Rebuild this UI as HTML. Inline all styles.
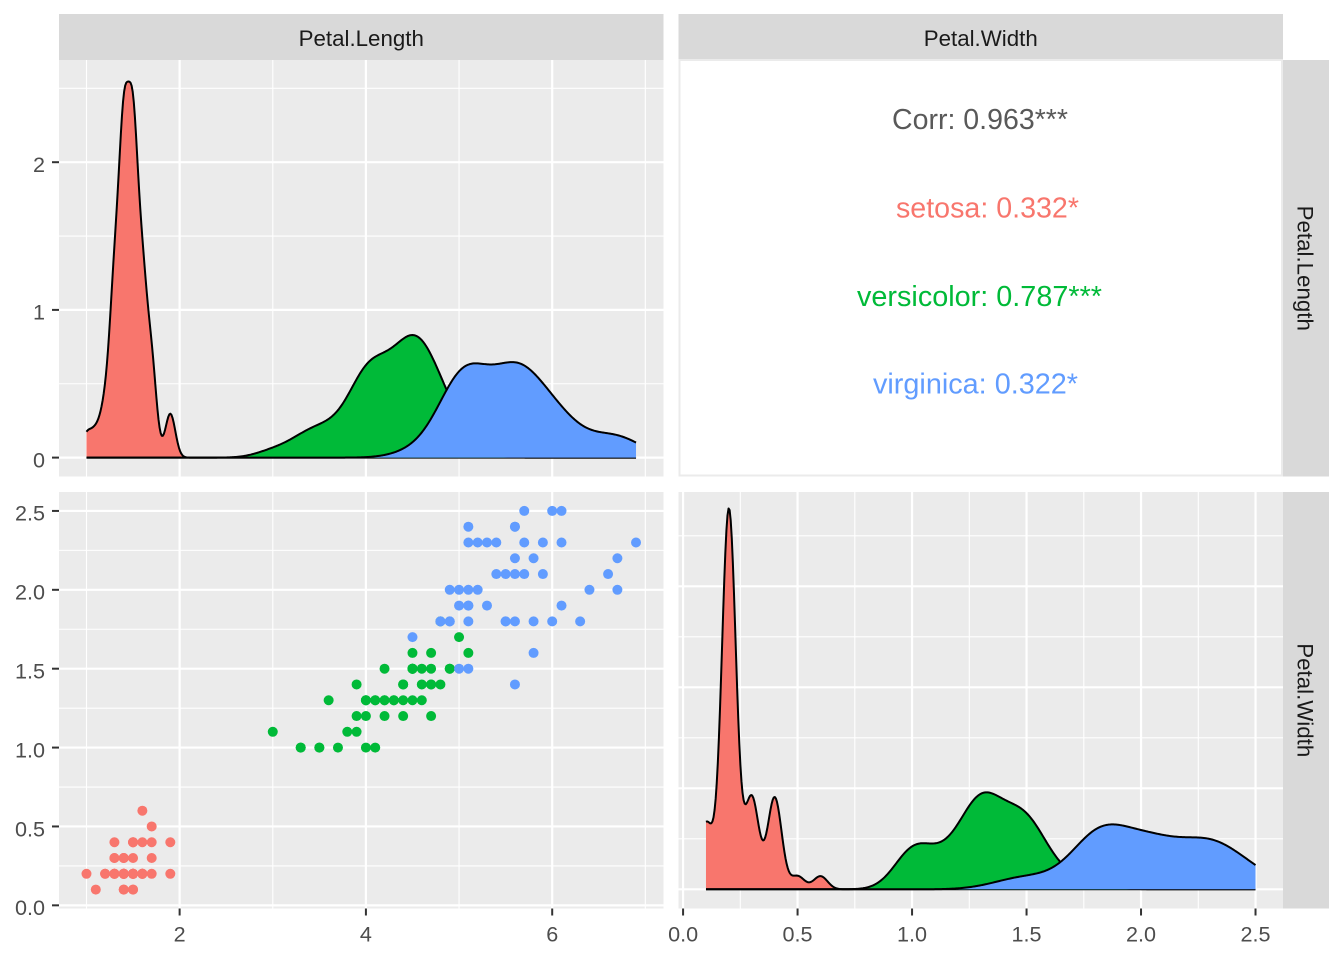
<!DOCTYPE html>
<html><head><meta charset="utf-8">
<style>
html,body{margin:0;padding:0;background:#fff;}
svg{display:block;}
text{font-family:"Liberation Sans",Arial,sans-serif;}
</style></head>
<body>
<svg id="s" width="1344" height="960" viewBox="0 0 1344 960" xmlns="http://www.w3.org/2000/svg">
<rect x="0" y="0" width="1344" height="960" fill="#ffffff"/>
<!-- top strips -->
<rect x="59" y="14" width="604.5" height="46" fill="#D9D9D9"/>
<rect x="678.5" y="14" width="604.5" height="46" fill="#D9D9D9"/>
<text x="361.25" y="46" font-size="22.3" fill="#1A1A1A" text-anchor="middle">Petal.Length</text>
<text x="980.75" y="46" font-size="22.3" fill="#1A1A1A" text-anchor="middle">Petal.Width</text>
<!-- right strips -->
<rect x="1283" y="60" width="46" height="416.5" fill="#D9D9D9"/>
<rect x="1283" y="492" width="46" height="416.5" fill="#D9D9D9"/>
<text transform="translate(1297.5,268.25) rotate(90)" font-size="22.3" fill="#1A1A1A" text-anchor="middle">Petal.Length</text>
<text transform="translate(1297.5,700.25) rotate(90)" font-size="22.3" fill="#1A1A1A" text-anchor="middle">Petal.Width</text>
<!-- panel backgrounds -->
<rect x="59" y="60" width="604.5" height="416.5" fill="#EBEBEB"/>
<rect x="59" y="492" width="604.5" height="416.5" fill="#EBEBEB"/>
<rect x="678.5" y="492" width="604.5" height="416.5" fill="#EBEBEB"/>
<rect x="679.5" y="60" width="602.5" height="415.5" fill="#ffffff" stroke="#EBEBEB" stroke-width="2"/>
<g id="p1"></g>
<g id="p3"></g>
<g id="p4"></g>
<!-- correlation text -->
<text x="892" y="129" font-size="29" fill="#595959" textLength="176" lengthAdjust="spacingAndGlyphs">Corr: 0.963***</text>
<text x="896" y="217.7" font-size="29" fill="#F8766D" textLength="183" lengthAdjust="spacingAndGlyphs">setosa: 0.332*</text>
<text x="857" y="306" font-size="29" fill="#00BA38" textLength="245" lengthAdjust="spacingAndGlyphs">versicolor: 0.787***</text>
<text x="873" y="393.5" font-size="29" fill="#619CFF" textLength="205" lengthAdjust="spacingAndGlyphs">virginica: 0.322*</text>
<!-- left axis ticks -->
<g stroke="#333333" stroke-width="2">
<line x1="52" y1="162.2" x2="59" y2="162.2"/>
<line x1="52" y1="309.9" x2="59" y2="309.9"/>
<line x1="52" y1="457.6" x2="59" y2="457.6"/>
<line x1="52" y1="905.34" x2="59" y2="905.34"/>
<line x1="52" y1="826.46" x2="59" y2="826.46"/>
<line x1="52" y1="747.58" x2="59" y2="747.58"/>
<line x1="52" y1="668.69" x2="59" y2="668.69"/>
<line x1="52" y1="589.81" x2="59" y2="589.81"/>
<line x1="52" y1="510.93" x2="59" y2="510.93"/>
<line x1="179.62" y1="908.5" x2="179.62" y2="915.5"/>
<line x1="365.91" y1="908.5" x2="365.91" y2="915.5"/>
<line x1="552.2" y1="908.5" x2="552.2" y2="915.5"/>
<line x1="683.08" y1="908.5" x2="683.08" y2="915.5"/>
<line x1="797.57" y1="908.5" x2="797.57" y2="915.5"/>
<line x1="912.06" y1="908.5" x2="912.06" y2="915.5"/>
<line x1="1026.55" y1="908.5" x2="1026.55" y2="915.5"/>
<line x1="1141.03" y1="908.5" x2="1141.03" y2="915.5"/>
<line x1="1255.52" y1="908.5" x2="1255.52" y2="915.5"/>
</g>
<g font-size="21.6" fill="#4D4D4D" text-anchor="end">
<text x="45" y="172">2</text>
<text x="45" y="319.7">1</text>
<text x="45" y="467.4">0</text>
<text x="45" y="915.1">0.0</text>
<text x="45" y="836.3">0.5</text>
<text x="45" y="757.4">1.0</text>
<text x="45" y="678.5">1.5</text>
<text x="45" y="599.6">2.0</text>
<text x="45" y="520.7">2.5</text>
</g>
<g font-size="21.6" fill="#4D4D4D" text-anchor="middle">
<text x="179.62" y="941.5">2</text>
<text x="365.91" y="941.5">4</text>
<text x="552.2" y="941.5">6</text>
<text x="683.08" y="941.5">0.0</text>
<text x="797.57" y="941.5">0.5</text>
<text x="912.06" y="941.5">1.0</text>
<text x="1026.55" y="941.5">1.5</text>
<text x="1141.03" y="941.5">2.0</text>
<text x="1255.52" y="941.5">2.5</text>
</g>
</svg>
<script>
(function(){
var PL=[1.4,1.4,1.3,1.5,1.4,1.7,1.4,1.5,1.4,1.5,1.5,1.6,1.4,1.1,1.2,1.5,1.3,1.4,1.7,1.5,1.7,1.5,1.0,1.7,1.9,1.6,1.6,1.5,1.4,1.6,1.6,1.5,1.5,1.4,1.5,1.2,1.3,1.4,1.3,1.5,1.3,1.3,1.3,1.6,1.9,1.4,1.6,1.4,1.5,1.4,
4.7,4.5,4.9,4.0,4.6,4.5,4.7,3.3,4.6,3.9,3.5,4.2,4.0,4.7,3.6,4.4,4.5,4.1,4.5,3.9,4.8,4.0,4.9,4.7,4.3,4.4,4.8,5.0,4.5,3.5,3.8,3.7,3.9,5.1,4.5,4.5,4.7,4.4,4.1,4.0,4.4,4.6,4.0,3.3,4.2,4.2,4.2,4.3,3.0,4.1,
6.0,5.1,5.9,5.6,5.8,6.6,4.5,6.3,5.8,6.1,5.1,5.3,5.5,5.0,5.1,5.3,5.5,6.7,6.9,5.0,5.7,4.9,6.7,4.9,5.7,6.0,4.8,4.9,5.6,5.8,6.1,6.4,5.6,5.1,5.6,6.1,5.6,5.5,4.8,5.4,5.6,5.1,5.1,5.9,5.7,5.2,5.0,5.2,5.4,5.1];
var PW=[0.2,0.2,0.2,0.2,0.2,0.4,0.3,0.2,0.2,0.1,0.2,0.2,0.1,0.1,0.2,0.4,0.4,0.3,0.3,0.3,0.2,0.4,0.2,0.5,0.2,0.2,0.4,0.2,0.2,0.2,0.2,0.4,0.1,0.2,0.2,0.2,0.2,0.1,0.2,0.2,0.3,0.3,0.2,0.6,0.4,0.3,0.2,0.2,0.2,0.2,
1.4,1.5,1.5,1.3,1.5,1.3,1.6,1.0,1.3,1.4,1.0,1.5,1.0,1.4,1.3,1.4,1.5,1.0,1.5,1.1,1.8,1.3,1.5,1.2,1.3,1.4,1.4,1.7,1.5,1.0,1.1,1.0,1.2,1.6,1.5,1.6,1.5,1.3,1.3,1.3,1.2,1.4,1.2,1.0,1.3,1.2,1.3,1.3,1.1,1.3,
2.5,1.9,2.1,1.8,2.2,2.1,1.7,1.8,1.8,2.5,2.0,1.9,2.1,2.0,2.4,2.3,1.8,2.2,2.3,1.5,2.3,2.0,2.0,1.8,2.1,1.8,1.8,1.8,2.1,1.6,1.9,2.0,2.2,1.5,1.4,2.3,2.4,1.8,1.8,2.1,2.4,2.3,1.9,2.3,2.5,2.3,1.9,2.0,2.3,1.8];
var cols=['#F8766D','#00BA38','#619CFF'];
var NS='http://www.w3.org/2000/svg';
function el(tag,a,p){var e=document.createElementNS(NS,tag);for(var k in a)e.setAttribute(k,a[k]);p.appendChild(e);return e;}
function xPL(v){return 59+(v-0.705)/6.49*604.5;}
function xPW(v){return 678.5+(v+0.02)/2.64*604.5;}
function yPW(v){return 908.5-(v+0.02)/2.64*416.5;}
function yD1(d){return 457.6-d*147.7;}
function yD4(d){return 889.3-d*50.5;}
function quant(s,p){var h=(s.length-1)*p,lo=Math.floor(h),f=h-lo;return lo+1<s.length?s[lo]+f*(s[lo+1]-s[lo]):s[lo];}
function bw(x){var n=x.length,m=0,i;for(i=0;i<n;i++)m+=x[i];m/=n;var ss=0;for(i=0;i<n;i++)ss+=(x[i]-m)*(x[i]-m);var sd=Math.sqrt(ss/(n-1));var s=x.slice().sort(function(a,b){return a-b;});var iqr=quant(s,0.75)-quant(s,0.25);var lo=Math.min(sd,iqr/1.34);if(!(lo>0))lo=sd||Math.abs(s[0])||1;return 0.9*lo*Math.pow(n,-0.2);}
function kde(x,from,to,N){var b=bw(x),n=x.length,c=1/(n*b*Math.sqrt(2*Math.PI)),xs=[],ds=[];for(var i=0;i<N;i++){var t=from+(to-from)*i/(N-1),s=0;for(var j=0;j<n;j++){var z=(t-x[j])/b;s+=Math.exp(-0.5*z*z);}xs.push(t);ds.push(s*c);}return [xs,ds];}
function grid(g,x0,x1,y0,y1,vx,vy,w,fx,fy){for(var i=0;i<vx.length;i++){var X=fx(vx[i]);if(X>=x0&&X<=x1)el('line',{x1:X,y1:y0,x2:X,y2:y1,stroke:'#fff','stroke-width':w},g);}for(i=0;i<vy.length;i++){var Y=fy(vy[i]);if(Y>=y0&&Y<=y1)el('line',{x1:x0,y1:Y,x2:x1,y2:Y,stroke:'#fff','stroke-width':w},g);}}
function densPanel(g,vals,from,to,fx,fy){for(var k=0;k<3;k++){var r=kde(vals.slice(k*50,k*50+50),from,to,512);var pts=[],i;for(i=0;i<512;i++)pts.push(fx(r[0][i]).toFixed(2)+','+fy(r[1][i]).toFixed(2));var base=fy(0).toFixed(2);var poly=pts.join(' ')+' '+fx(to).toFixed(2)+','+base+' '+fx(from).toFixed(2)+','+base;el('polygon',{points:poly,fill:cols[k],stroke:'none'},g);el('polyline',{points:pts.join(' '),fill:'none',stroke:'#000','stroke-width':2,'stroke-linejoin':'round'},g);}}
var p1=document.getElementById('p1'),p3=document.getElementById('p3'),p4=document.getElementById('p4');
// P1
grid(p1,59,663.5,60,476.5,[1,3,5,7],[0.5,1.5,2.5],1.1,xPL,yD1);
grid(p1,59,663.5,60,476.5,[2,4,6],[0,1,2],2.2,xPL,yD1);
densPanel(p1,PL,1.0,6.9,xPL,yD1);
// P3
grid(p3,59,663.5,492,908.5,[1,3,5,7],[0.25,0.75,1.25,1.75,2.25],1.1,xPL,yPW);
grid(p3,59,663.5,492,908.5,[2,4,6],[0,0.5,1,1.5,2,2.5],2.2,xPL,yPW);
for(var i=0;i<150;i++){el('circle',{cx:xPL(PL[i]).toFixed(2),cy:yPW(PW[i]).toFixed(2),r:5,fill:cols[Math.floor(i/50)]},p3);}
// P4
grid(p4,678.5,1283,492,908.5,[0.25,0.75,1.25,1.75,2.25],[1,3,5,7],1.1,xPW,yD4);
grid(p4,678.5,1283,492,908.5,[0,0.5,1,1.5,2,2.5],[0,2,4,6],2.2,xPW,yD4);
densPanel(p4,PW,0.1,2.5,xPW,yD4);
})();
</script>
</body></html>
